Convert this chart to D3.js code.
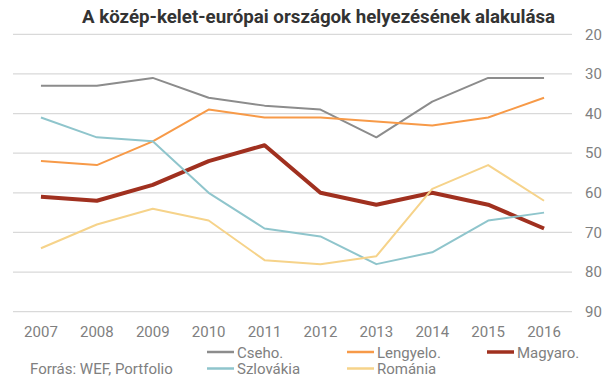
<!DOCTYPE html>
<html><head><meta charset="utf-8">
<script src="https://cdn.jsdelivr.net/npm/d3@7/dist/d3.min.js"></script>
<style>
html,body{margin:0;padding:0;background:#fff;}
text{font-family:Roboto,"Noto Sans",sans-serif;}
</style></head>
<body><svg id="c" width="605" height="378"></svg>
<script>
const years = ["2007","2008","2009","2010","2011","2012","2013","2014","2015","2016"];
const yTicks = [20,30,40,50,60,70,80,90];
const cseho     = [33,33,31,36,38,39,46,37,31,31];
const lengyel   = [52,53,47,39,41,41,42,43,41,36];
const magyar    = [61,62,58,52,48,60,63,60,63,69];
const szlovakia = [41,46,47,60,69,71,78,75,67,65];
const romania   = [74,68,64,67,77,78,76,59,53,62];
const seriesNames = ["Cseho.","Lengyelo.","Magyaro.","Szlovákia","Románia"];
const seriesData = [cseho, lengyel, magyar, szlovakia, romania];
const colors = ["#8c8c8c","#f79a48","#a0301f","#8fc5cc","#f6d38a"];
const widths = [2,2,4,2,2];

const svg = d3.select("#c");
const x = d3.scaleBand().domain(years).range([13,572]);
const y = d3.scaleLinear().domain([20,90]).range([34.3,311.7]);

// gridlines
svg.append("g").selectAll("line").data(yTicks).join("line")
  .attr("x1",13).attr("x2",572)
  .attr("y1",d=>y(d)).attr("y2",d=>y(d))
  .attr("stroke","#d9d9d9").attr("stroke-width",1.3);

// y axis (right)
const ya = svg.append("g").attr("transform","translate(585,0)")
  .call(d3.axisRight(y).tickValues(yTicks).tickSize(0).tickPadding(0));
ya.select(".domain").remove();
ya.selectAll("text").attr("fill","#808080").style("font-size","15px").attr("x",0);

// x axis
const xa = svg.append("g").attr("transform","translate(0,320)")
  .call(d3.axisBottom(x).tickSize(0).tickPadding(0));
xa.select(".domain").remove();
xa.selectAll("text").attr("fill","#808080").style("font-size","15px").attr("dy","1em").attr("y",2);

// lines
const line = d3.line().x((d,i)=>x(years[i])+x.bandwidth()/2).y(d=>y(d));
seriesData.forEach((s,k)=>{
  svg.append("path").datum(s).attr("d",line)
    .attr("fill","none").attr("stroke",colors[k]).attr("stroke-width",widths[k])
    .attr("stroke-linejoin","round");
});

// title
svg.append("text").attr("x",82).attr("y",22.5)
  .attr("fill","#333333").style("font-size","18.5px").style("font-weight","bold")
  .attr("textLength",473).attr("lengthAdjust","spacingAndGlyphs")
  .text("A közép-kelet-európai országok helyezésének alakulása");

// legend
const legPos = [[207,352],[347,352],[487,352],[207,368.5],[347,368.5]];
seriesNames.forEach((n,k)=>{
  const [lx,ly] = legPos[k];
  svg.append("line").attr("x1",lx).attr("x2",lx+27).attr("y1",ly).attr("y2",ly)
    .attr("stroke",colors[k]).attr("stroke-width",widths[k]===4?3.5:2.5);
  svg.append("text").attr("x",lx+30).attr("y",ly+5.5)
    .attr("fill","#808080").style("font-size","15px").text(n);
});

// source
svg.append("text").attr("x",30).attr("y",373.5)
  .attr("fill","#808080").style("font-size","15px").text("Forrás: WEF, Portfolio");
</script></body></html>
